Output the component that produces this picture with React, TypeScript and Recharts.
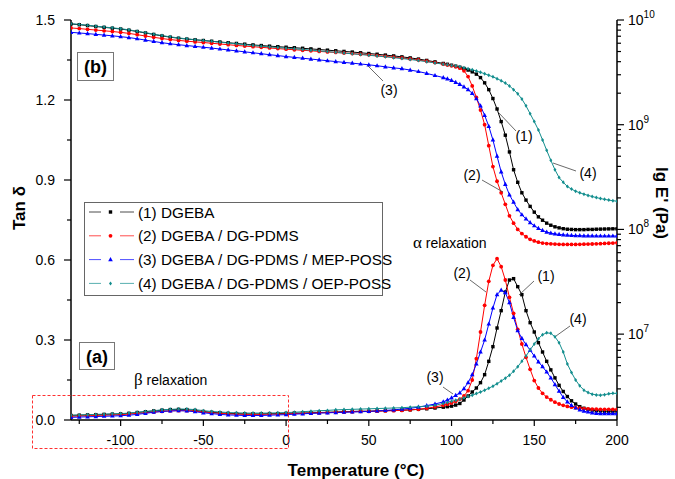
import { Line, LineChart, XAxis, YAxis } from 'recharts'

// temperature (°C): 5° steps below 95, 2.5° steps through the relaxation region
const temps = [
  -130, -125, -120, -115, -110, -105, -100, -95, -90, -85,
  -80, -75, -70, -65, -60, -55, -50, -45, -40, -35,
  -30, -25, -20, -15, -10, -5, 0, 5, 10, 15,
  20, 25, 30, 35, 40, 45, 50, 55, 60, 65,
  70, 75, 80, 85, 90, 95,
  97.5, 100, 102.5, 105, 107.5, 110, 112.5, 115, 117.5, 120,
  122.5, 125, 127.5, 130, 132.5, 135, 137.5, 140, 142.5, 145,
  147.5, 150, 152.5, 155, 157.5, 160, 162.5, 165, 167.5, 170,
  172.5, 175, 177.5, 180, 182.5, 185, 187.5, 190, 192.5, 195,
  197.5, 200,
]

// tan delta (left axis)
const tanDgeba = [
  0.017, 0.018, 0.019, 0.02, 0.021, 0.022, 0.023, 0.025, 0.028, 0.031,
  0.034, 0.037, 0.039, 0.04, 0.039, 0.036, 0.032, 0.029, 0.027, 0.025,
  0.024, 0.023, 0.023, 0.023, 0.024, 0.024, 0.025, 0.026, 0.026, 0.027,
  0.028, 0.029, 0.03, 0.031, 0.032, 0.033, 0.033, 0.034, 0.035, 0.036,
  0.037, 0.038, 0.04, 0.042, 0.045, 0.048,
  0.05, 0.052, 0.056, 0.062, 0.075, 0.09, 0.105, 0.12, 0.14, 0.17,
  0.22, 0.275, 0.345, 0.41, 0.48, 0.525, 0.53, 0.5, 0.47, 0.41,
  0.365, 0.33, 0.29, 0.255, 0.22, 0.188, 0.158, 0.13, 0.107, 0.088,
  0.072, 0.06, 0.05, 0.044, 0.04, 0.037, 0.035, 0.034, 0.033, 0.033,
  0.033, 0.033,
]
const tanPdms = [
  0.014, 0.015, 0.016, 0.017, 0.018, 0.019, 0.02, 0.022, 0.025, 0.027,
  0.03, 0.032, 0.034, 0.035, 0.035, 0.033, 0.03, 0.027, 0.025, 0.023,
  0.022, 0.021, 0.021, 0.021, 0.022, 0.022, 0.023, 0.024, 0.025, 0.026,
  0.027, 0.028, 0.029, 0.03, 0.031, 0.032, 0.032, 0.033, 0.034, 0.035,
  0.036, 0.038, 0.04, 0.044, 0.049, 0.055,
  0.059, 0.064, 0.07, 0.078, 0.09, 0.11, 0.15, 0.23, 0.33, 0.43,
  0.52, 0.58, 0.605, 0.575, 0.525, 0.46, 0.4, 0.34, 0.285, 0.235,
  0.19, 0.148, 0.12, 0.1, 0.086, 0.076, 0.067, 0.06, 0.055, 0.051,
  0.048, 0.046, 0.044, 0.043, 0.042, 0.041, 0.041, 0.04, 0.04, 0.04,
  0.04, 0.04,
]
const tanMep = [
  0.01, 0.011, 0.012, 0.013, 0.014, 0.015, 0.016, 0.018, 0.021, 0.025,
  0.029, 0.032, 0.034, 0.035, 0.034, 0.031, 0.027, 0.024, 0.021, 0.019,
  0.018, 0.017, 0.017, 0.017, 0.018, 0.019, 0.02, 0.022, 0.023, 0.025,
  0.026, 0.027, 0.028, 0.029, 0.03, 0.031, 0.032, 0.034, 0.036, 0.038,
  0.041, 0.044, 0.048, 0.054, 0.06, 0.068,
  0.075, 0.083, 0.092, 0.102, 0.118, 0.14, 0.17, 0.21, 0.255, 0.3,
  0.36, 0.42, 0.47, 0.487, 0.478, 0.44, 0.385, 0.335, 0.306, 0.283,
  0.262, 0.24, 0.218, 0.2, 0.18, 0.158, 0.133, 0.108, 0.085, 0.068,
  0.055, 0.045, 0.038, 0.033, 0.03, 0.027, 0.025, 0.024, 0.024, 0.024,
  0.024, 0.024,
]
const tanOep = [
  0.018, 0.019, 0.02, 0.021, 0.022, 0.023, 0.024, 0.026, 0.029, 0.032,
  0.035, 0.038, 0.04, 0.041, 0.041, 0.039, 0.035, 0.032, 0.03, 0.028,
  0.027, 0.026, 0.026, 0.026, 0.026, 0.027, 0.028, 0.029, 0.031, 0.033,
  0.035, 0.036, 0.038, 0.039, 0.04, 0.041, 0.042, 0.043, 0.044, 0.045,
  0.046, 0.048, 0.05, 0.052, 0.055, 0.062,
  0.066, 0.07, 0.074, 0.078, 0.083, 0.088, 0.093, 0.099, 0.105, 0.112,
  0.119, 0.127, 0.136, 0.146, 0.157, 0.168, 0.183, 0.2, 0.22, 0.24,
  0.263, 0.285, 0.305, 0.32, 0.327, 0.325, 0.312, 0.29, 0.255, 0.21,
  0.178, 0.15, 0.128, 0.112, 0.103, 0.097, 0.094, 0.093, 0.095, 0.098,
  0.1, 0.1,
]

// lg E' (Pa) (right axis)
const lgDgeba = [
  9.962, 9.955, 9.947, 9.938, 9.93, 9.922, 9.914, 9.903, 9.89, 9.876,
  9.862, 9.848, 9.836, 9.826, 9.818, 9.811, 9.804, 9.797, 9.79, 9.783,
  9.776, 9.769, 9.762, 9.756, 9.75, 9.745, 9.74, 9.735, 9.73, 9.724,
  9.718, 9.712, 9.706, 9.7, 9.694, 9.687, 9.68, 9.673, 9.665, 9.657,
  9.648, 9.638, 9.627, 9.614, 9.6, 9.585,
  9.577, 9.568, 9.559, 9.549, 9.537, 9.522, 9.505, 9.483, 9.45, 9.4,
  9.335, 9.25, 9.15, 9.03, 8.9, 8.74, 8.57, 8.45, 8.35, 8.28,
  8.22, 8.165, 8.12, 8.088, 8.06, 8.04, 8.025, 8.015, 8.007, 8.002,
  8.0, 7.998, 7.998, 7.998, 8.0, 8.0, 8.002, 8.003, 8.004, 8.005,
  8.006, 8.006,
]
const lgPdms = [
  9.924, 9.918, 9.911, 9.904, 9.897, 9.89, 9.882, 9.872, 9.86, 9.847,
  9.835, 9.823, 9.813, 9.805, 9.798, 9.791, 9.785, 9.778, 9.771, 9.764,
  9.757, 9.751, 9.745, 9.739, 9.733, 9.727, 9.721, 9.716, 9.711, 9.706,
  9.7, 9.695, 9.69, 9.685, 9.679, 9.673, 9.667, 9.66, 9.653, 9.645,
  9.637, 9.628, 9.618, 9.606, 9.593, 9.578,
  9.57, 9.562, 9.553, 9.54, 9.515, 9.46, 9.37, 9.26, 9.14, 9.0,
  8.8, 8.6, 8.46, 8.35, 8.24, 8.13, 8.06, 8.0, 7.96, 7.93,
  7.905, 7.89, 7.878, 7.87, 7.865, 7.862, 7.86, 7.858, 7.857, 7.857,
  7.857, 7.857, 7.858, 7.859, 7.86, 7.861, 7.862, 7.864, 7.866, 7.868,
  7.87, 7.872,
]
const lgMep = [
  9.882, 9.876, 9.87, 9.863, 9.856, 9.849, 9.841, 9.832, 9.821, 9.808,
  9.795, 9.783, 9.773, 9.764, 9.756, 9.748, 9.74, 9.732, 9.723, 9.714,
  9.705, 9.696, 9.687, 9.678, 9.669, 9.66, 9.651, 9.643, 9.635, 9.627,
  9.619, 9.611, 9.603, 9.595, 9.588, 9.58, 9.572, 9.563, 9.553, 9.543,
  9.535, 9.522, 9.508, 9.49, 9.47, 9.45,
  9.438, 9.424, 9.405, 9.385, 9.362, 9.335, 9.3, 9.25, 9.18, 9.09,
  8.985, 8.855, 8.7, 8.55, 8.43, 8.33, 8.26, 8.19, 8.14, 8.1,
  8.065, 8.035, 8.01, 7.99, 7.975, 7.965, 7.957, 7.952, 7.948, 7.945,
  7.943, 7.941, 7.94, 7.939, 7.938, 7.938, 7.937, 7.937, 7.937, 7.937,
  7.937, 7.937,
]
const lgOep = [
  9.965, 9.958, 9.95, 9.941, 9.933, 9.925, 9.917, 9.906, 9.893, 9.879,
  9.865, 9.851, 9.839, 9.829, 9.82, 9.812, 9.804, 9.796, 9.788, 9.78,
  9.772, 9.764, 9.757, 9.75, 9.743, 9.737, 9.731, 9.725, 9.719, 9.712,
  9.705, 9.698, 9.691, 9.684, 9.677, 9.67, 9.663, 9.656, 9.648, 9.64,
  9.632, 9.623, 9.613, 9.602, 9.59, 9.578,
  9.572, 9.566, 9.56, 9.553, 9.545, 9.535, 9.525, 9.513, 9.5, 9.487,
  9.472, 9.457, 9.44, 9.42, 9.398, 9.37, 9.335, 9.295, 9.245, 9.18,
  9.105, 9.03, 8.95, 8.855, 8.755, 8.66, 8.57, 8.495, 8.45, 8.41,
  8.385, 8.365, 8.35, 8.337, 8.325, 8.314, 8.304, 8.295, 8.287, 8.28,
  8.274, 8.27,
]

const xTicks = [-125, -100, -75, -50, -25, 0, 25, 50, 75, 100, 125, 150, 175, 200]
const tanTicks = [0, 0.15, 0.3, 0.45, 0.6, 0.75, 0.9, 1.05, 1.2, 1.35, 1.5]
const lgMajor = [7, 8, 9, 10]
const lgMin = 6.18
const lgTicks = [6, 7, 8, 9]
  .flatMap((d) => [1, 2, 3, 4, 5, 6, 7, 8, 9].map((m) => d + Math.log10(m)))
  .concat([10])
  .filter((v) => v >= lgMin)

const series = [
  { key: '1', name: '(1) DGEBA', color: '#000000', shape: 'square', tan: tanDgeba, lg: lgDgeba },
  { key: '2', name: '(2) DGEBA / DG-PDMS', color: '#ff0000', shape: 'circle', tan: tanPdms, lg: lgPdms },
  { key: '3', name: '(3) DGEBA / DG-PDMS / MEP-POSS', color: '#0000ff', shape: 'triangle', tan: tanMep, lg: lgMep },
  { key: '4', name: '(4) DGEBA / DG-PDMS / OEP-POSS', color: '#138e8e', shape: 'star', tan: tanOep, lg: lgOep },
]

const data = temps.map((t, i) => {
  const row: Record<string, number> = { t }
  series.forEach((s) => {
    row['tan' + s.key] = s.tan[i]
    row['lg' + s.key] = s.lg[i]
  })
  return row
})

const FONT = "'Liberation Sans', Arial, sans-serif"

function Marker({ cx, cy, shape, color }: any) {
  if (cx == null || cy == null) return null
  if (shape === 'square')
    return <rect x={cx - 1.7} y={cy - 1.7} width={3.4} height={3.4} fill={color} />
  if (shape === 'circle') return <circle cx={cx} cy={cy} r={1.9} fill={color} />
  if (shape === 'triangle')
    return <path d={`M${cx},${cy - 2.6}L${cx + 2.3},${cy + 1.6}L${cx - 2.3},${cy + 1.6}Z`} fill={color} />
  return <path d={`M${cx},${cy - 2}L${cx + 1.5},${cy}L${cx},${cy + 2}L${cx - 1.5},${cy}Z`} fill={color} />
}

function BottomTick({ x, y, payload }: any) {
  const v = payload.value
  const major = v % 50 === 0
  return (
    <g>
      <line x1={x} x2={x} y1={y} y2={y + (major ? 6 : 4)} stroke="#000" strokeWidth={1.2} />
      {major && (
        <text x={x} y={y + 25} textAnchor="middle" fontSize={14} fill="#000">
          {v}
        </text>
      )}
    </g>
  )
}

function TopTick({ x, y, payload }: any) {
  const major = payload.value % 50 === 0
  return <line x1={x} x2={x} y1={y} y2={y + (major ? 6 : 4)} stroke="#000" strokeWidth={1.2} />
}

function LeftTick({ x, y, payload }: any) {
  const v = payload.value
  const major = Math.abs(v / 0.3 - Math.round(v / 0.3)) < 1e-6
  return (
    <g>
      <line x1={x} x2={x - (major ? 7 : 4)} y1={y} y2={y} stroke="#000" strokeWidth={1.2} />
      {major && (
        <text x={x - 16} y={y + 5} textAnchor="end" fontSize={14} fill="#000">
          {v.toFixed(1)}
        </text>
      )}
    </g>
  )
}

function RightTick({ x, y, payload }: any) {
  const v = payload.value
  const major = lgMajor.some((m) => Math.abs(m - v) < 1e-6)
  return (
    <g>
      <line x1={x} x2={x + (major ? 7 : 4)} y1={y} y2={y} stroke="#000" strokeWidth={1.2} />
      {major && (
        <text x={x + 11} y={y + 5} fontSize={14} fill="#000">
          10
          <tspan dy={-7} fontSize={10}>
            {Math.round(v)}
          </tspan>
        </text>
      )}
    </g>
  )
}

const leaders = [
  { label: '(3)', tx: 389, ty: 95, x1: 368, y1: 66, x2: 383, y2: 81 },
  { label: '(1)', tx: 524, ty: 141, x1: 498, y1: 112, x2: 516, y2: 131 },
  { label: '(2)', tx: 472, ty: 180, x1: 482, y1: 180, x2: 503, y2: 192 },
  { label: '(4)', tx: 588, ty: 178, x1: 553, y1: 163, x2: 576, y2: 171 },
  { label: '(2)', tx: 462, ty: 278, x1: 470, y1: 280, x2: 486, y2: 292 },
  { label: '(1)', tx: 546, ty: 281, x1: 534, y1: 281, x2: 519, y2: 295 },
  { label: '(3)', tx: 435, ty: 382, x1: 443, y1: 387, x2: 453, y2: 394 },
  { label: '(4)', tx: 578, ty: 324, x1: 570, y1: 326, x2: 556, y2: 336 },
]

function Overlay() {
  return (
    <svg
      width={675}
      height={479}
      style={{ position: 'absolute', left: 0, top: 0, pointerEvents: 'none', fontFamily: FONT }}
    >
      <text x={25} y={208} transform="rotate(-90 25 208)" textAnchor="middle" fontSize={17} fontWeight="bold">
        Tan δ
      </text>
      <text x={356} y={476} textAnchor="middle" fontSize={17} fontWeight="bold">
        Temperature (°C)
      </text>
      <text x={656} y={203} transform="rotate(90 656 203)" textAnchor="middle" fontSize={17} fontWeight="bold">
        lg E' (Pa)
      </text>

      <rect x={77.5} y={52.5} width={36} height={28} fill="#fff" stroke="#777" />
      <text x={95.5} y={73} textAnchor="middle" fontSize={18} fontWeight="bold">
        (b)
      </text>
      <rect x={79.5} y={342.5} width={35} height={27} fill="#fff" stroke="#777" />
      <text x={97} y={362.5} textAnchor="middle" fontSize={18} fontWeight="bold">
        (a)
      </text>

      <text x={134} y={385} fontSize={14}>
        <tspan fontFamily="'Liberation Serif', serif" fontSize={17}>
          β
        </tspan>{' '}
        relaxation
      </text>
      <text x={413} y={248} fontSize={14}>
        <tspan fontFamily="'Liberation Serif', serif" fontSize={17}>
          α
        </tspan>{' '}
        relaxation
      </text>
      <rect x={32.5} y={395.5} width={256} height={53} fill="none" stroke="#ff3030" strokeDasharray="3 2" />

      {leaders.map((l, i) => (
        <g key={i}>
          <line x1={l.x1} y1={l.y1} x2={l.x2} y2={l.y2} stroke="#444" strokeWidth={0.8} />
          <text x={l.tx} y={l.ty} textAnchor="middle" fontSize={14}>
            {l.label}
          </text>
        </g>
      ))}

      <rect x={84.5} y={202.5} width={298} height={93} fill="#fff" stroke="#666" />
      {series.map((s, i) => {
        const cy = 212 + i * 23.8
        return (
          <g key={s.key}>
            <line x1={89} x2={101} y1={cy} y2={cy} stroke={s.color} strokeOpacity={0.7} />
            <line x1={120} x2={134} y1={cy} y2={cy} stroke={s.color} strokeOpacity={0.7} />
            <Marker cx={110.5} cy={cy} shape={s.shape} color={s.color} />
            <text x={138} y={cy + 5.5} fontSize={15.3}>
              {s.name}
            </text>
          </g>
        )
      })}
    </svg>
  )
}

export default function App() {
  return (
    <div
      style={{
        position: 'absolute',
        left: 0,
        top: 0,
        width: 675,
        height: 479,
        background: '#fff',
        fontFamily: FONT,
      }}
    >
      <LineChart width={675} height={479} data={data} margin={{ top: 20, right: 8, bottom: 19, left: 21 }}>
        <XAxis
          type="number"
          dataKey="t"
          domain={[-130, 200]}
          ticks={xTicks}
          interval={0}
          height={40}
          tickSize={0}
          tickMargin={0}
          tickLine={false}
          tick={<BottomTick />}
          axisLine={{ stroke: '#000', strokeWidth: 1.5 }}
          allowDataOverflow
        />
        <XAxis
          xAxisId="top"
          orientation="top"
          type="number"
          dataKey="t"
          domain={[-130, 200]}
          ticks={xTicks}
          interval={0}
          height={0}
          tickSize={0}
          tickMargin={0}
          tickLine={false}
          tick={<TopTick />}
          axisLine={{ stroke: '#000', strokeWidth: 1.5 }}
          allowDataOverflow
        />
        <YAxis
          yAxisId="left"
          domain={[0, 1.5]}
          ticks={tanTicks}
          interval={0}
          width={50}
          tickSize={0}
          tickMargin={0}
          tickLine={false}
          tick={<LeftTick />}
          axisLine={{ stroke: '#000', strokeWidth: 1.5 }}
          allowDataOverflow
        />
        <YAxis
          yAxisId="right"
          orientation="right"
          domain={[lgMin, 10]}
          ticks={lgTicks}
          interval={0}
          width={50}
          tickSize={0}
          tickMargin={0}
          tickLine={false}
          tick={<RightTick />}
          axisLine={{ stroke: '#000', strokeWidth: 1.5 }}
          allowDataOverflow
        />
        {series.map((s) => (
          <Line
            key={'lg' + s.key}
            yAxisId="right"
            dataKey={'lg' + s.key}
            stroke={s.color}
            strokeWidth={1}
            dot={<Marker shape={s.shape} color={s.color} />}
            activeDot={false}
            isAnimationActive={false}
          />
        ))}
        {series.map((s) => (
          <Line
            key={'tan' + s.key}
            yAxisId="left"
            dataKey={'tan' + s.key}
            stroke={s.color}
            strokeWidth={1}
            dot={<Marker shape={s.shape} color={s.color} />}
            activeDot={false}
            isAnimationActive={false}
          />
        ))}
      </LineChart>
      <Overlay />
    </div>
  )
}
